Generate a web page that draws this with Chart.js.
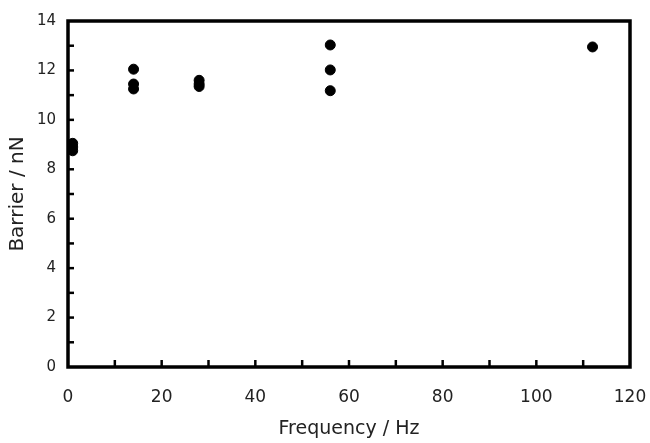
<!DOCTYPE html>
<html>
<head>
<meta charset="utf-8">
<script src="https://cdn.jsdelivr.net/npm/chart.js@4"></script>
<style>
  html, body { margin: 0; padding: 0; background: #fff; }
  #wrap { width: 650px; height: 443px; }
</style>
</head>
<body>
<div id="wrap"><canvas id="myChart"></canvas></div>
<script>
// frequency (Hz) and barrier (nN)
let freq = [1, 1, 1, 14, 14, 14, 28, 28, 28, 56, 56, 56, 112];
let barrier = [9.05, 8.9, 8.75, 12.05, 11.45, 11.25, 11.6, 11.45, 11.35, 13.03, 12.02, 11.18, 12.95];

let xMinorTicks = [10, 20, 30, 40, 50, 60, 70, 80, 90, 100, 110];
let yMinorTicks = [1, 2, 3, 4, 5, 6, 7, 8, 9, 10, 11, 12, 13];

const fontName = "'DejaVu Sans', sans-serif";

// box round the plot + small ticks pointing inward
const frame = {
    id: 'frame',
    afterDraw(chart) {
        const ctx = chart.ctx;
        const a = chart.chartArea;
        const x = chart.scales.x;
        const y = chart.scales.y;
        ctx.save();
        ctx.strokeStyle = '#000';
        ctx.lineWidth = 2.5;
        for (let v of xMinorTicks) {
            let px = x.getPixelForValue(v);
            ctx.beginPath();
            ctx.moveTo(px, a.bottom);
            ctx.lineTo(px, a.bottom - 7);
            ctx.stroke();
        }
        for (let v of yMinorTicks) {
            let py = y.getPixelForValue(v);
            ctx.beginPath();
            ctx.moveTo(a.left, py);
            ctx.lineTo(a.left + 6, py);
            ctx.stroke();
        }
        ctx.lineWidth = 3.5;
        ctx.strokeRect(a.left, a.top, a.right - a.left, a.bottom - a.top);
        ctx.restore();
    }
};

const ctx = document.getElementById('myChart').getContext('2d');
const myChart = new Chart(ctx, {
    type: 'scatter',
    data: {
        datasets: [{
            label: 'Barrier',
            data: freq.map((f, i) => ({ x: f, y: barrier[i] })),
            backgroundColor: '#000',
            borderColor: '#000',
            pointRadius: 5,
            pointHoverRadius: 5,
        }]
    },
    options: {
        responsive: true,
        maintainAspectRatio: false,
        animation: false,
        layout: { padding: { top: 21, right: 20, left: 0, bottom: 0 } },
        plugins: {
            legend: { display: false },
            tooltip: { enabled: false }
        },
        scales: {
            x: {
                type: 'linear',
                min: 0,
                max: 120,
                afterFit: (s) => { s.height = 76; s.paddingLeft = 0; s.paddingRight = 0; },
                ticks: {
                    stepSize: 20,
                    color: '#222',
                    padding: 20,
                    font: { family: fontName, size: 17 }
                },
                grid: { display: false, drawTicks: false },
                border: { display: false },
                title: {
                    display: true,
                    text: 'Frequency / Hz',
                    color: '#222',
                    padding: { top: 0, bottom: 3 },
                    font: { family: fontName, size: 19 }
                }
            },
            y: {
                type: 'linear',
                min: 0,
                max: 14,
                afterFit: (s) => { s.width = 68; s.paddingTop = 0; s.paddingBottom = 0; },
                ticks: {
                    stepSize: 2,
                    color: '#222',
                    padding: 12,
                    font: { family: fontName, size: 15 }
                },
                grid: { display: false, drawTicks: false },
                border: { display: false },
                title: {
                    display: true,
                    text: 'Barrier / nN',
                    color: '#222',
                    padding: { top: 6, bottom: 0 },
                    font: { family: fontName, size: 20 }
                }
            }
        }
    },
    plugins: [frame]
});
</script>
</body>
</html>
